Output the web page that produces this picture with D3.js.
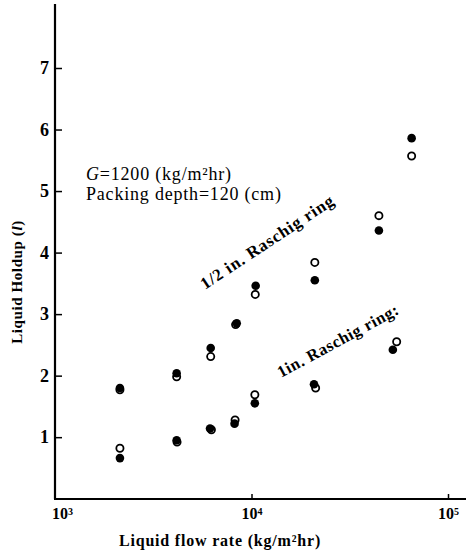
<!DOCTYPE html>
<html>
<head>
<meta charset="utf-8">
<script src="https://cdn.jsdelivr.net/npm/d3@7"></script>
<style>
  body { margin: 0; background: #fff; }
  svg, svg text { font-family: "Liberation Serif", "Times New Roman", "DejaVu Serif", serif; }
  .tick line { stroke: #000; stroke-width: 1.5; }
  .tick text { fill: #000; font-weight: bold; }
</style>
</head>
<body>
<script>
let width = 466,
    height = 554;

// liquid flow rate (kg/m2hr), holdup (l)
let halfFilled = [[2140, 1.80], [4160, 2.04], [6200, 2.45], [8410, 2.85], [10500, 3.46], [21000, 3.55], [44500, 4.36], [65300, 5.86]];
let halfOpen = [[2140, 1.77], [4160, 1.98], [6200, 2.31], [8300, 2.83], [10450, 3.32], [21000, 3.84], [44500, 4.60], [65300, 5.57]];
let oneFilled = [[2140, 0.66], [4160, 0.95], [6150, 1.14], [8200, 1.22], [10400, 1.55], [20800, 1.86], [52400, 2.42]];
let oneOpen = [[2140, 0.82], [4180, 0.92], [6250, 1.12], [8250, 1.28], [10400, 1.69], [21200, 1.80], [54800, 2.55]];

let yTicks = [1, 2, 3, 4, 5, 6, 7];
let xTicks = [1e3, 1e4, 1e5];

let serif = '"Liberation Serif", "Times New Roman", serif';

let svg = d3.select('body').append('svg')
    .attr('width', width)
    .attr('height', height);

let x = d3.scaleLog().domain([1e3, 1e5]).range([55, 448]);
let y = d3.scaleLinear().domain([0, 7]).range([498.7, 68]);

// axes
let yAxis = svg.append('g')
    .attr('transform', 'translate(55,0)')
    .call(d3.axisLeft(y).tickValues(yTicks).tickSize(-7).tickPadding(6).tickFormat(d3.format('d')))
    .attr('font-family', serif);
yAxis.select('.domain').remove();
yAxis.selectAll('text').style('font-size', '18px');

let xAxis = svg.append('g')
    .attr('transform', 'translate(0,499)')
    .call(d3.axisBottom(x).tickValues(xTicks).tickSize(-5).tickPadding(4).tickFormat(() => ''))
    .attr('font-family', serif);
xAxis.select('.domain').remove();
xAxis.selectAll('.tick').filter(d => d === 1e3).select('line').remove();
xAxis.selectAll('.tick text')
    .attr('dy', '1em')
    .style('font-size', '16px')
    .attr('dx', d => d === 1e3 ? 7 : 0)
    .each(function(d) {
        let t = d3.select(this);
        t.append('tspan').text('10');
        t.append('tspan').attr('dy', '-0.4em').style('font-size', '10px').text(Math.round(Math.log10(d)));
    });

svg.append('line')
    .attr('x1', 55).attr('y1', 4).attr('x2', 55).attr('y2', 499)
    .attr('stroke', '#000').attr('stroke-width', 2.2);
svg.append('line')
    .attr('x1', 54).attr('y1', 499).attr('x2', 466).attr('y2', 499)
    .attr('stroke', '#000').attr('stroke-width', 2.2);

// axis titles
svg.append('text')
    .attr('x', 220).attr('y', 546)
    .attr('text-anchor', 'middle')
    .style('font-size', '16px').style('font-weight', 'bold').style('letter-spacing', '0.8px')
    .text('Liquid flow rate (kg/m²hr)');

let yTitle = svg.append('text')
    .attr('transform', 'translate(22,282) rotate(-90)')
    .attr('text-anchor', 'middle')
    .style('font-size', '15px').style('font-weight', 'bold').style('letter-spacing', '0.6px');
yTitle.append('tspan').text('Liquid Holdup (');
yTitle.append('tspan').style('font-style', 'italic').text('l');
yTitle.append('tspan').text(')');

// notes
let note1 = svg.append('text')
    .attr('x', 86).attr('y', 180)
    .style('font-size', '18px').style('letter-spacing', '0.8px');
note1.append('tspan').style('font-style', 'italic').text('G');
note1.append('tspan').text('=1200 (kg/m²hr)');
svg.append('text')
    .attr('x', 86).attr('y', 200)
    .style('font-size', '18px').style('letter-spacing', '0.8px')
    .text('Packing depth=120 (cm)');

svg.append('text')
    .attr('transform', 'translate(205,290) rotate(-33.5)')
    .style('font-size', '17px').style('font-weight', 'bold').style('letter-spacing', '0.8px')
    .text('1/2 in. Raschig ring');
svg.append('text')
    .attr('transform', 'translate(281,378) rotate(-28.5)')
    .style('font-size', '16.5px').style('font-weight', 'bold').style('letter-spacing', '0.6px')
    .text('1in. Raschig ring:');

// points: open first so filled sit on top
function drawOpen(data) {
    svg.append('g').selectAll('circle').data(data).enter().append('circle')
        .attr('cx', d => x(d[0])).attr('cy', d => y(d[1]))
        .attr('r', 3.6)
        .attr('fill', '#fff').attr('stroke', '#000').attr('stroke-width', 1.8);
}
function drawFilled(data) {
    svg.append('g').selectAll('circle').data(data).enter().append('circle')
        .attr('cx', d => x(d[0])).attr('cy', d => y(d[1]))
        .attr('r', 4.3)
        .attr('fill', '#000');
}
drawOpen(halfOpen);
drawOpen(oneOpen);
drawFilled(halfFilled);
drawFilled(oneFilled);
</script>
</body>
</html>
